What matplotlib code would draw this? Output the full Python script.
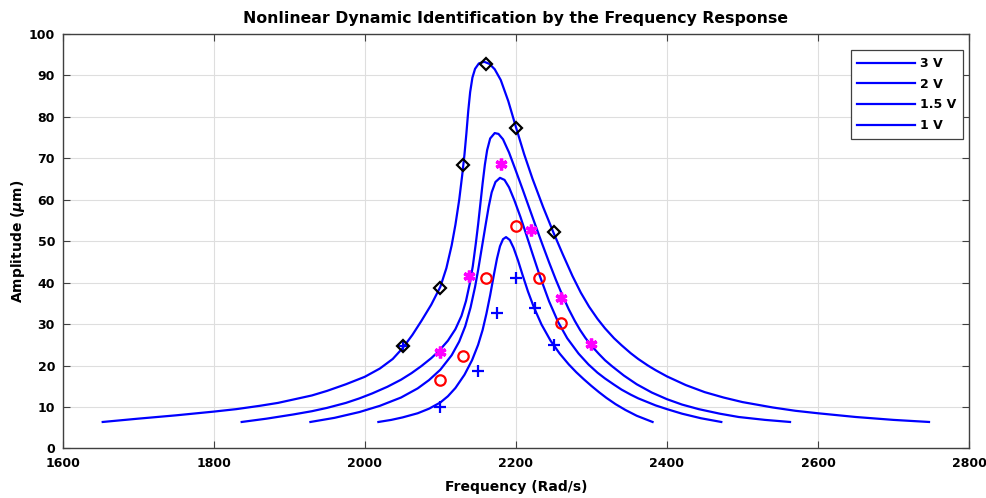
import numpy as np
import matplotlib
matplotlib.use('Agg')
import matplotlib.pyplot as plt

# ============================================================================
# DATA
# ============================================================================
# model curves: frequency (Rad/s) and amplitude (um)
f_3v = [1653, 1700, 1750, 1800, 1830, 1861, 1885, 1905, 1930, 1950, 1975, 2000,
        2020, 2037, 2050, 2063, 2075, 2088, 2100, 2108, 2115, 2120, 2125, 2129,
        2132, 2134.5, 2137, 2139.5, 2142.5, 2146, 2151, 2158, 2165, 2172, 2180,
        2190, 2200, 2211, 2222, 2236, 2250, 2262, 2275, 2286, 2297, 2308, 2318,
        2330, 2340, 2352, 2362, 2375, 2385, 2400, 2425, 2450, 2475, 2500, 2540,
        2570, 2600, 2650, 2700, 2747]
a_3v = [6.4, 7.2, 8.0, 8.9, 9.5, 10.3, 11.0, 11.8, 12.8, 13.9, 15.5, 17.3,
        19.3, 21.6, 24.2, 27.4, 30.8, 34.7, 39.0, 43.5, 49.0, 54.0, 60.0, 66.0,
        71.0, 76.0, 81.5, 86.0, 89.5, 91.6, 92.9, 93.3, 92.8, 91.5, 88.9,
        83.8, 77.6, 71.0, 65.1, 58.3, 52.0, 46.9, 41.6, 37.6, 34.2, 31.3, 29.0,
        26.6, 24.9, 23.0, 21.6, 20.0, 18.9, 17.4, 15.3, 13.6, 12.3, 11.2, 9.9,
        9.1, 8.5, 7.6, 6.9, 6.4]

f_2v = [1837, 1870, 1905, 1930, 1950, 1975, 1993, 2010, 2030, 2048, 2062, 2075,
        2088, 2098, 2110, 2120, 2128, 2134, 2139, 2143, 2147, 2150, 2153, 2156,
        2159, 2162, 2166, 2172, 2177, 2183, 2191, 2200, 2209, 2218, 2226, 2235,
        2244, 2253, 2262, 2270, 2278, 2285, 2292, 2300, 2310, 2318, 2327, 2343,
        2360, 2380, 2400, 2420, 2442, 2470, 2495, 2530, 2563]
a_2v = [6.4, 7.2, 8.2, 9.0, 9.8, 11.0, 12.1, 13.3, 14.9, 16.6, 18.2, 19.9,
        21.8, 23.5, 26.0, 28.8, 32.0, 35.6, 39.8, 44.0, 49.5, 54.0, 59.0, 64.0,
        68.5, 72.0, 74.8, 76.1, 75.9, 74.6, 71.4, 67.0, 62.5, 57.9, 53.8, 49.3,
        44.9, 40.7, 36.8, 33.6, 30.8, 28.6, 26.7, 24.8, 22.8, 21.3, 19.9, 17.6,
        15.5, 13.5, 11.9, 10.6, 9.5, 8.4, 7.6, 6.9, 6.4]

f_15v = [1928, 1960, 1993, 2020, 2048, 2070, 2085, 2100, 2115, 2125, 2133, 2140,
         2146, 2150, 2155, 2160, 2164, 2168, 2173, 2179, 2185, 2191, 2198, 2206,
         2214, 2222, 2232, 2244, 2256, 2268, 2283, 2296, 2308, 2318, 2330, 2340,
         2352, 2362, 2385, 2400, 2420, 2445, 2472]
a_15v = [6.4, 7.4, 8.8, 10.3, 12.3, 14.5, 16.5, 19.0, 22.5, 25.8, 29.5, 34.0,
         39.0, 43.0, 48.5, 54.0, 58.3, 61.8, 64.3, 65.3, 64.8, 63.0, 59.9, 55.9,
         51.5, 47.0, 41.5, 35.5, 30.5, 26.6, 22.9, 20.3, 18.3, 16.9, 15.4, 14.2,
         13.0, 12.1, 10.4, 9.5, 8.4, 7.3, 6.4]

f_1v = [2018, 2035, 2050, 2070, 2085, 2100, 2110, 2120, 2132, 2142, 2150, 2156,
        2161, 2166, 2171, 2175, 2179, 2183, 2187, 2192, 2197, 2203, 2209, 2216,
        2224, 2234, 2246, 2258, 2270, 2280, 2290, 2300, 2310, 2320, 2332, 2345,
        2360, 2381]
a_1v = [6.4, 6.9, 7.5, 8.5, 9.6, 11.1, 12.6, 14.6, 17.8, 21.3, 25.0, 28.6,
        32.5, 37.0, 42.0, 45.8, 48.8, 50.5, 51.0, 50.3, 48.4, 45.3, 41.8, 37.9,
        34.0, 29.9, 26.0, 22.9, 20.3, 18.4, 16.7, 15.1, 13.6, 12.2, 10.7, 9.3,
        7.9, 6.4]

# measured points
meas_f_3v = [2050, 2100, 2130, 2160, 2200, 2250]
meas_a_3v = [24.8, 38.8, 68.3, 92.7, 77.3, 52.3]
meas_f_2v = [2100, 2138, 2180, 2220, 2260, 2300]
meas_a_2v = [23.2, 41.6, 68.6, 52.7, 36.2, 25.2]
meas_f_15v = [2100, 2130, 2160, 2200, 2230, 2260]
meas_a_15v = [16.6, 22.2, 41.2, 53.6, 41.2, 30.2]
meas_f_1v = [2100, 2150, 2175, 2200, 2225, 2250]
meas_a_1v = [10.0, 18.7, 32.6, 41.2, 34.0, 25.0]
# stray point hidden under the 2050 diamond
extra_f = [2050]
extra_a = [24.8]

legend_labels = ['3 V', '2 V', '1.5 V', '1 V']

# ============================================================================
# PLOTTING
# ============================================================================
plt.rcParams['font.family'] = ['DejaVu Sans']
plt.rcParams['font.weight'] = 'bold'
plt.rcParams['mathtext.fontset'] = 'dejavusans'

fig = plt.figure(figsize=(9.87, 4.98), dpi=100)
ax = fig.add_axes([0.0635, 0.0994, 0.9183, 0.8323])

blue = '#0000ff'
lines = []
for ff, aa in [(f_3v, a_3v), (f_2v, a_2v), (f_15v, a_15v), (f_1v, a_1v)]:
    l, = ax.plot(ff, aa, color=blue, lw=1.6, zorder=3)
    lines.append(l)

ax.plot(extra_f, extra_a, '+', color=blue, ms=7, mew=1.5, zorder=4)
ax.plot(meas_f_1v, meas_a_1v, '+', color=blue, ms=8, mew=1.6, zorder=4)
ax.plot(meas_f_15v, meas_a_15v, 'o', mfc='none', mec='red', ms=7.5, mew=1.6, zorder=4)
ax.plot(meas_f_2v, meas_a_2v, ls='none', marker=(6, 2, 0), color='magenta',
        ms=8.5, mew=2.4, zorder=4)
ax.plot(meas_f_3v, meas_a_3v, 'D', mfc='none', mec='black', ms=6.5, mew=1.6, zorder=5)

ax.set_xlim(1600, 2800)
ax.set_ylim(0, 100)
ax.set_xticks(np.arange(1600, 2801, 200))
ax.set_yticks(np.arange(0, 101, 10))
ax.grid(True, color='#dedede', lw=0.8)
ax.set_axisbelow(True)
ax.tick_params(axis='both', direction='in', top=True, right=True, length=5,
               width=0.8, color='#404040', labelsize=9)
ax.tick_params(axis='x', pad=6)
ax.tick_params(axis='y', pad=5.5)
for lab in ax.get_xticklabels() + ax.get_yticklabels():
    lab.set_fontweight('bold')
for sp in ax.spines.values():
    sp.set_color('#404040')
    sp.set_linewidth(1.0)

ax.set_xlabel('Frequency (Rad/s)', fontsize=10, fontweight='bold', labelpad=7)
ax.set_ylabel(r'Amplitude ($\mu$m)', fontsize=10, fontweight='bold', labelpad=1)
ax.set_title('Nonlinear Dynamic Identification by the Frequency Response',
             fontsize=11.3, fontweight='bold', pad=8)

leg = ax.legend(lines, legend_labels, loc='upper right',
                bbox_to_anchor=(0.9934, 0.9614), borderaxespad=0,
                fancybox=False, framealpha=1, edgecolor='#404040', fontsize=9,
                handlelength=4.6, handletextpad=0.4, labelspacing=0.62,
                borderpad=0.55)
for t in leg.get_texts():
    t.set_fontweight('bold')
leg.get_frame().set_linewidth(0.9)

fig.savefig('out.png', dpi=100)
